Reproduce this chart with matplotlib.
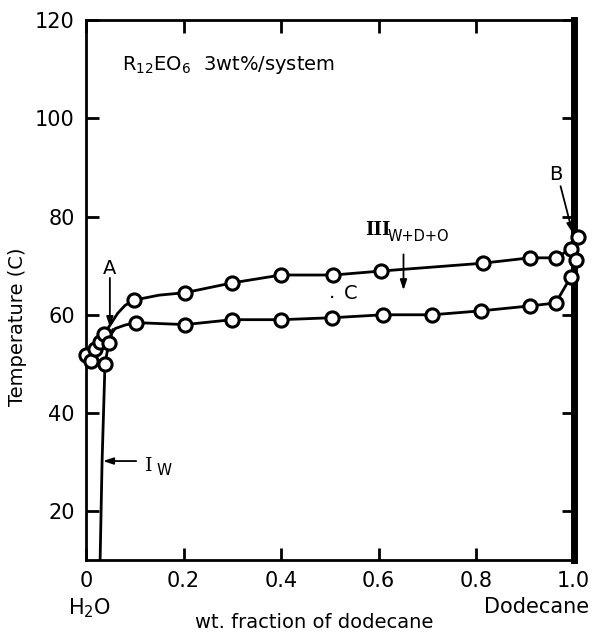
#!/usr/bin/env python3
# Phase diagram R12EO6 3wt% / water - dodecane, temperature vs wt. fraction of dodecane.
import matplotlib; matplotlib.use("Agg"); import matplotlib.pyplot as plt

# measured points (open circles)
upper_x=[0.099,0.203,0.30,0.40,0.507,0.604,0.813,0.91,0.963,0.994]
upper_y=[63.0,64.5,66.5,68.1,68.1,68.9,70.5,71.6,71.6,73.4]
lower_x=[0.103,0.203,0.30,0.40,0.505,0.61,0.71,0.81,0.91,0.963,0.994]
lower_y=[58.4,58.0,59.0,59.0,59.4,60.0,60.0,60.8,61.8,62.4,67.7]
left_x=[0.0,0.010,0.019,0.029,0.037,0.039,0.047]
left_y=[51.9,50.5,53.1,54.5,56.1,50.0,54.3]
right_x=[1.004,1.008]
right_y=[71.2,75.8]

# phase boundary curves
cu_x=[0.0,0.019,0.029,0.037,0.05,0.065,0.08,0.099,0.15,0.203,0.30,0.40,0.507,0.604,0.813,0.91,0.963,0.994,1.008]
cu_y=[51.9,53.1,54.5,56.1,58.0,60.3,61.9,63.0,64.0,64.5,66.5,68.1,68.1,68.9,70.5,71.6,71.6,73.4,75.8]
cl_x=[0.047,0.06,0.08,0.103,0.203,0.30,0.40,0.505,0.61,0.71,0.81,0.91,0.963,0.994,1.004]
cl_y=[55.5,57.2,57.9,58.4,58.0,59.0,59.0,59.4,60.0,60.0,60.8,61.8,62.4,67.7,71.2]
iw_x=[0.029,0.033,0.039,0.047,0.055]
iw_y=[10,30,50.0,54.3,57.0]

xticks=[0,0.2,0.4,0.6,0.8,1.0]; xlabels=["0","0.2","0.4","0.6","0.8","1.0"]
yticks=[20,40,60,80,100,120]

fig=plt.figure(figsize=(5.97,6.33),dpi=100)
ax=fig.add_axes([0.144,0.115,0.817,0.853])
ax.set_xlim(0,1.0); ax.set_ylim(10,120)
lk=dict(color="black",lw=2,solid_capstyle="round",zorder=2)
ax.plot(cu_x,cu_y,**lk); ax.plot(cl_x,cl_y,**lk); ax.plot(iw_x,iw_y,**lk)
mk=dict(ls="none",marker="o",ms=9.5,mfc="white",mec="black",mew=2.2,zorder=3)
for xs,ys in [(upper_x,upper_y),(lower_x,lower_y),(left_x,left_y),(right_x,right_y)]:
    ax.plot(xs,ys,clip_on=False,**mk)

for s in ["left","top","bottom"]: ax.spines[s].set_linewidth(2)
ax.spines["right"].set_linewidth(5)
ax.tick_params(direction="in",length=9,width=2,top=True,right=True,labelsize=15,pad=8)
ax.set_xticks(xticks); ax.set_xticklabels(xlabels); ax.set_yticks(yticks)

arr=dict(arrowstyle="-|>,head_length=0.6,head_width=0.2",color="black",lw=1.3,shrinkA=0,shrinkB=0)
ax.text(0.074,110.8,r"R$_{12}$EO$_6$  3wt%/system",fontsize=14,va="center")
ax.text(0.049,69.5,"A",fontsize=14,ha="center",va="center")
ax.annotate("",xy=(0.049,57.5),xytext=(0.049,67.5),arrowprops=arr)
ax.text(0.963,88.5,"B",fontsize=14,ha="center",va="center")
ax.annotate("",xy=(0.998,76.6),xytext=(0.973,86.2),arrowprops=arr)
ax.text(0.573,77.3,"III",fontsize=13,family="DejaVu Serif",weight="bold",va="center")
ax.text(0.618,76.0,"W+D+O",fontsize=10.5,va="center")
ax.annotate("",xy=(0.651,65.0),xytext=(0.651,72.3),arrowprops=arr)
ax.text(0.505,62.6,".",fontsize=14,ha="center",va="bottom")
ax.text(0.543,64.4,"C",fontsize=14,ha="center",va="center")
ax.text(0.12,29.2,"I",fontsize=14,family="DejaVu Serif",va="center")
ax.text(0.145,28.2,"W",fontsize=11,va="center")
ax.annotate("",xy=(0.035,30.2),xytext=(0.103,30.2),arrowprops=arr)

fig.text(90/597,1-608/633,r"H$_2$O",fontsize=15,ha="center",va="center")
fig.text(537/597,1-607/633,"Dodecane",fontsize=15,ha="center",va="center")
fig.text(314/597,1-623/633,"wt. fraction of dodecane",fontsize=14,ha="center",va="center")
fig.text(18/597,1-327/633,"Temperature (C)",fontsize=14,rotation=90,ha="center",va="center")
fig.savefig("out.png",dpi=100)
